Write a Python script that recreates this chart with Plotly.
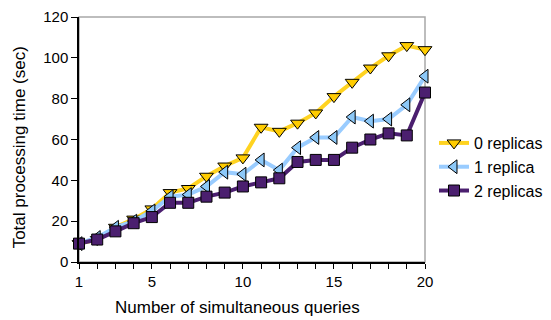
import plotly.graph_objects as go

# Number of simultaneous queries
queries = list(range(1, 21))

# Total processing time (sec) per replica configuration
time_0_replicas = [9, 11, 17, 21, 26, 34, 36, 42, 47, 51, 66, 64, 68, 73, 81, 88, 95, 101, 106, 104]
time_1_replica = [9, 12, 17, 20, 25, 32, 33, 37, 44, 43, 50, 45, 56, 61, 61, 71, 69, 70, 77, 91]
time_2_replicas = [9, 11, 15, 19, 22, 29, 29, 32, 34, 37, 39, 41, 49, 50, 50, 56, 60, 63, 62, 83]

x_tick_vals = [1, 5, 10, 15, 20]

x_title = "Number of simultaneous queries"
y_title = "Total processing time (sec)"

FONT = "Liberation Sans, Arial, sans-serif"

series = [
    ("0 replicas", time_0_replicas, "#FFD320", "#FFCC00", "triangle-down", 12),
    ("1 replica", time_1_replica, "#99CCFF", "#8CC8F8", "triangle-left", 12),
    ("2 replicas", time_2_replicas, "#4B1F6F", "#4B1F6F", "square", 11),
]

fig = go.Figure()
for name, values, line_color, fill, symbol, size in series:
    fig.add_trace(go.Scatter(
        x=queries, y=values, name=name, mode="lines+markers",
        line=dict(color=line_color, width=4),
        marker=dict(symbol=symbol, size=size, color=fill,
                    line=dict(color="#000000", width=1)),
        cliponaxis=False,
    ))

# Light grey frame on the top and right of the plot area
fig.add_shape(type="rect", xref="paper", yref="paper", x0=0, y0=0, x1=1, y1=1,
              line=dict(color="#A8A8A8", width=1.5), layer="below")

# Axis titles
fig.add_annotation(text=x_title, xref="paper", yref="paper", x=0.457, y=-0.184,
                   xanchor="center", yanchor="middle", showarrow=False,
                   font=dict(size=17))
fig.add_annotation(text=y_title, xref="paper", yref="paper", x=-0.172, y=0.47,
                   xanchor="center", yanchor="middle", showarrow=False,
                   textangle=-90, font=dict(size=17))

fig.update_layout(
    width=551, height=320,
    margin=dict(l=79, r=126, t=17, b=58, autoexpand=False),
    paper_bgcolor="white", plot_bgcolor="white",
    font=dict(family=FONT, size=15, color="#000000"),
    showlegend=True,
    legend=dict(x=1.026, y=0.555, xanchor="left", yanchor="top",
                bgcolor="rgba(0,0,0,0)", borderwidth=0,
                font=dict(size=16), tracegroupgap=0, itemwidth=30),
    xaxis=dict(
        range=[1, 20], tickmode="array",
        tickvals=queries,
        ticktext=[str(q) if q in x_tick_vals else "" for q in queries],
        ticks="outside", ticklen=5, tickcolor="#000000", tickwidth=1,
        showline=True, linecolor="#000000", linewidth=1.5,
        showgrid=False, zeroline=False,
    ),
    yaxis=dict(
        range=[0, 120], dtick=20,
        ticks="outside", ticklen=6, tickcolor="#000000", tickwidth=1,
        showline=True, linecolor="#000000", linewidth=1.5,
        showgrid=False, zeroline=False,
    ),
)

fig.write_html("out.html")
